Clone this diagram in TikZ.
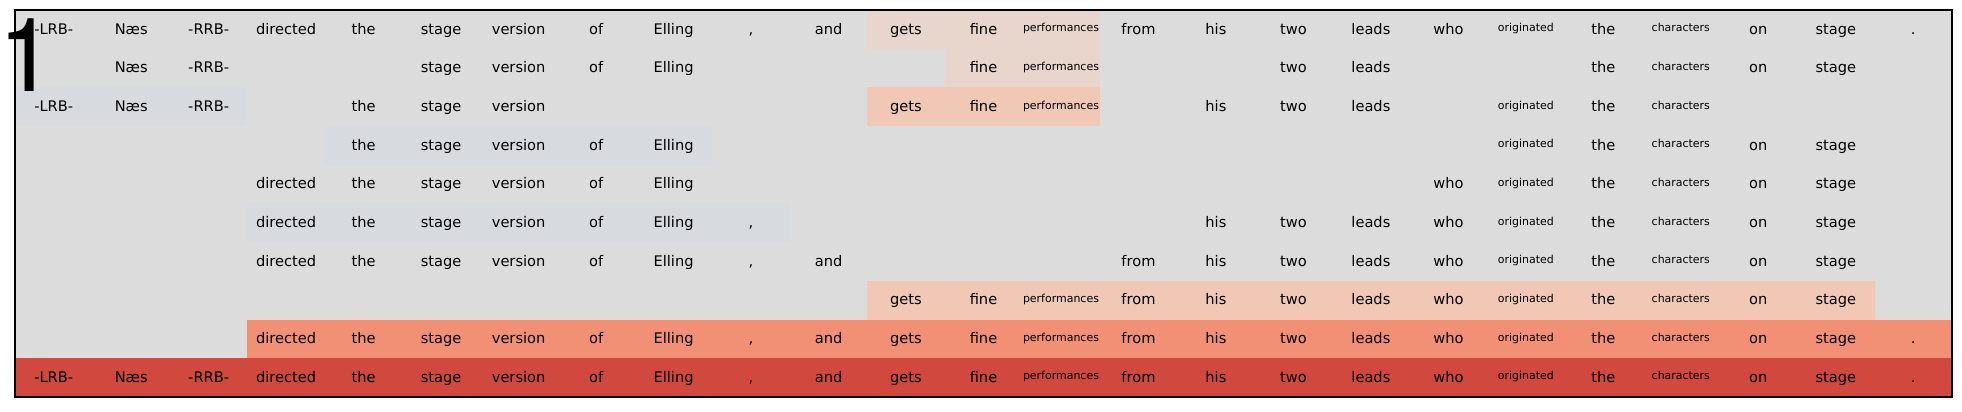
\documentclass[tikz,border=0pt]{standalone}
\usepackage{fontspec}
\setmainfont{DejaVu Sans}
\newfontfamily\nrfont{TeX Gyre Heros}
\usepackage{xcolor}
\usepackage{tikz}

\definecolor{feldgrau}{RGB}{220,220,220}
\definecolor{blaugrau}{RGB}{215,219,224}
\definecolor{hellpfirsich}{RGB}{232,213,203}
\definecolor{pfirsich}{RGB}{240,200,181}
\definecolor{lachs}{RGB}{241,144,116}
\definecolor{ziegel}{RGB}{208,72,62}

% long words are set smaller and a little higher
\newcommand{\smalltok}[1]{\raisebox{1.7pt}{\fontsize{7.8}{9}\selectfont #1}}

\begin{document}
\begin{tikzpicture}[x=0.025cm, y=-0.025cm]
    \useasboundingbox (0,0) rectangle (1962,412);

    % --- 1. Background of the panel ---
    \fill[feldgrau] (15,10) rectangle (1952,397);

    % --- 2. Highlighted spans (one row = one span set) ---
    \fill[hellpfirsich] (867.28,10) rectangle (1099.72,48.7);
    \fill[hellpfirsich] (944.76,48.7) rectangle (1099.72,87.4);
    \fill[blaugrau] (15,87.4) rectangle (247.44,126.1);
    \fill[pfirsich] (867.28,87.4) rectangle (1099.72,126.1);
    \fill[blaugrau] (324.92,126.1) rectangle (712.32,164.8);
    \fill[blaugrau] (247.44,203.5) rectangle (789.8,242.2);
    \fill[pfirsich] (867.28,280.9) rectangle (1874.52,319.6);
    \fill[lachs] (247.44,319.6) rectangle (1952,358.3);
    \fill[ziegel] (15,358.3) rectangle (1952,397);

    % --- 3. Tokens (column c sits at 15+(c-0.5)*77.48) ---
    \tikzset{tok/.style={anchor=base, inner sep=0pt, yshift=-3.34pt, font=\fontsize{10.4}{12}\selectfont}}

    \foreach \c/\w in {1/-LRB-, 2/Næs, 3/-RRB-, 4/directed, 5/the, 6/stage, 7/version, 8/of, 9/Elling, 10/{,}, 11/and, 12/gets, 13/fine, 14/\smalltok{performances}, 15/from, 16/his, 17/two, 18/leads, 19/who, 20/\smalltok{originated}, 21/the, 22/\smalltok{characters}, 23/on, 24/stage, 25/{.}}
        \node[tok] (tok-1-\c) at ({15+(\c-0.5)*77.48},29.35) {\w};

    \foreach \c/\w in {2/Næs, 3/-RRB-, 6/stage, 7/version, 8/of, 9/Elling, 13/fine, 14/\smalltok{performances}, 17/two, 18/leads, 21/the, 22/\smalltok{characters}, 23/on, 24/stage}
        \node[tok] (tok-2-\c) at ({15+(\c-0.5)*77.48},68.05) {\w};

    \foreach \c/\w in {1/-LRB-, 2/Næs, 3/-RRB-, 5/the, 6/stage, 7/version, 12/gets, 13/fine, 14/\smalltok{performances}, 16/his, 17/two, 18/leads, 20/\smalltok{originated}, 21/the, 22/\smalltok{characters}}
        \node[tok] (tok-3-\c) at ({15+(\c-0.5)*77.48},106.75) {\w};

    \foreach \c/\w in {5/the, 6/stage, 7/version, 8/of, 9/Elling, 20/\smalltok{originated}, 21/the, 22/\smalltok{characters}, 23/on, 24/stage}
        \node[tok] (tok-4-\c) at ({15+(\c-0.5)*77.48},145.45) {\w};

    \foreach \c/\w in {4/directed, 5/the, 6/stage, 7/version, 8/of, 9/Elling, 19/who, 20/\smalltok{originated}, 21/the, 22/\smalltok{characters}, 23/on, 24/stage}
        \node[tok] (tok-5-\c) at ({15+(\c-0.5)*77.48},184.15) {\w};

    \foreach \c/\w in {4/directed, 5/the, 6/stage, 7/version, 8/of, 9/Elling, 10/{,}, 16/his, 17/two, 18/leads, 19/who, 20/\smalltok{originated}, 21/the, 22/\smalltok{characters}, 23/on, 24/stage}
        \node[tok] (tok-6-\c) at ({15+(\c-0.5)*77.48},222.85) {\w};

    \foreach \c/\w in {4/directed, 5/the, 6/stage, 7/version, 8/of, 9/Elling, 10/{,}, 11/and, 15/from, 16/his, 17/two, 18/leads, 19/who, 20/\smalltok{originated}, 21/the, 22/\smalltok{characters}, 23/on, 24/stage}
        \node[tok] (tok-7-\c) at ({15+(\c-0.5)*77.48},261.55) {\w};

    \foreach \c/\w in {12/gets, 13/fine, 14/\smalltok{performances}, 15/from, 16/his, 17/two, 18/leads, 19/who, 20/\smalltok{originated}, 21/the, 22/\smalltok{characters}, 23/on, 24/stage}
        \node[tok] (tok-8-\c) at ({15+(\c-0.5)*77.48},300.25) {\w};

    \foreach \c/\w in {4/directed, 5/the, 6/stage, 7/version, 8/of, 9/Elling, 10/{,}, 11/and, 12/gets, 13/fine, 14/\smalltok{performances}, 15/from, 16/his, 17/two, 18/leads, 19/who, 20/\smalltok{originated}, 21/the, 22/\smalltok{characters}, 23/on, 24/stage, 25/{.}}
        \node[tok] (tok-9-\c) at ({15+(\c-0.5)*77.48},338.95) {\w};

    \foreach \c/\w in {1/-LRB-, 2/Næs, 3/-RRB-, 4/directed, 5/the, 6/stage, 7/version, 8/of, 9/Elling, 10/{,}, 11/and, 12/gets, 13/fine, 14/\smalltok{performances}, 15/from, 16/his, 17/two, 18/leads, 19/who, 20/\smalltok{originated}, 21/the, 22/\smalltok{characters}, 23/on, 24/stage, 25/{.}}
        \node[tok] (tok-10-\c) at ({15+(\c-0.5)*77.48},377.65) {\w};

    % --- 4. Frame and panel number ---
    \draw[black, line width=1pt] (15,10) rectangle (1952,397);
    \node[anchor=base west, inner sep=0pt] (panel-nr) at (-1.5,92) {\nrfont\fontsize{73}{73}\selectfont 1};

\end{tikzpicture}
\end{document}
